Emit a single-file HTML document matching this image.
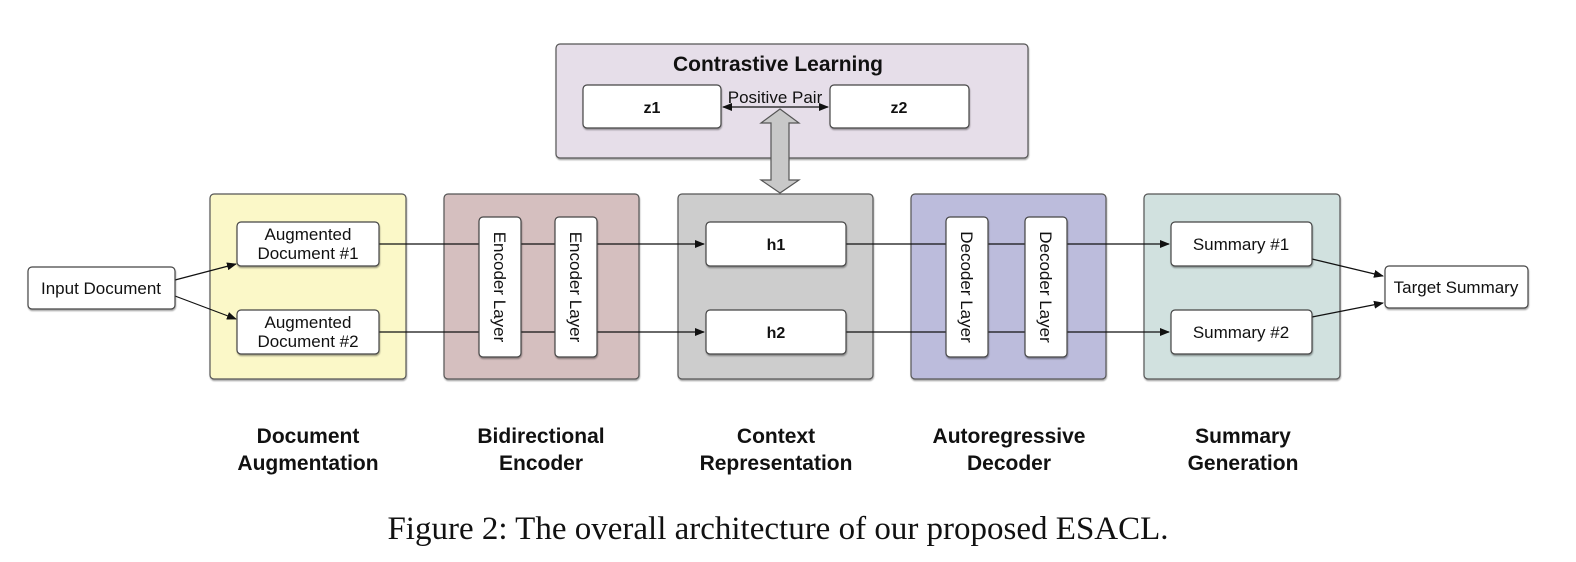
<!DOCTYPE html>
<html><head><meta charset="utf-8"><style>
html,body{margin:0;padding:0;background:#fff;}
svg{display:block;}
text{font-family:"Liberation Sans",Arial,sans-serif;fill:#111;}
</style></head><body>
<svg width="1576" height="562" viewBox="0 0 1576 562" xmlns="http://www.w3.org/2000/svg">
<defs>
<marker id="ah" markerWidth="10" markerHeight="8" refX="9" refY="4" orient="auto" markerUnits="userSpaceOnUse">
<path d="M0,0 L10,4 L0,8 z" fill="#111"/></marker>
<marker id="ahs" markerWidth="10" markerHeight="8" refX="1" refY="4" orient="auto" markerUnits="userSpaceOnUse">
<path d="M10,0 L0,4 L10,8 z" fill="#111"/></marker>
<filter id="sh" x="-5%" y="-5%" width="110%" height="115%"><feDropShadow dx="0.5" dy="1.5" stdDeviation="0.8" flood-color="#000" flood-opacity="0.35"/></filter>
</defs>
<g stroke="#555" stroke-width="1.2" filter="url(#sh)">
<rect x="556" y="44" width="472" height="114" rx="4" fill="#e6dee9"/>
<rect x="210" y="194" width="196" height="185" rx="4" fill="#fbf8c8"/>
<rect x="444" y="194" width="195" height="185" rx="4" fill="#d5bfbf"/>
<rect x="678" y="194" width="195" height="185" rx="4" fill="#cdcdcd"/>
<rect x="911" y="194" width="195" height="185" rx="4" fill="#bcbcdc"/>
<rect x="1144" y="194" width="196" height="185" rx="4" fill="#d1e1df"/>
</g>
<g stroke="#111" stroke-width="1.2" fill="none">
<line x1="379" y1="244" x2="704" y2="244" marker-end="url(#ah)"/>
<line x1="379" y1="332" x2="704" y2="332" marker-end="url(#ah)"/>
<line x1="846" y1="244" x2="1169" y2="244" marker-end="url(#ah)"/>
<line x1="846" y1="332" x2="1169" y2="332" marker-end="url(#ah)"/>
<line x1="175" y1="280" x2="236" y2="264" marker-end="url(#ah)"/>
<line x1="175" y1="296" x2="236" y2="319" marker-end="url(#ah)"/>
<line x1="1312" y1="259" x2="1383" y2="276" marker-end="url(#ah)"/>
<line x1="1312" y1="317" x2="1383" y2="303" marker-end="url(#ah)"/>
<line x1="723" y1="107" x2="828" y2="107" marker-start="url(#ahs)" marker-end="url(#ah)"/>
</g>
<path d="M780,109 L799,123 L789,123 L789,180 L799,180 L780,193 L761,180 L771,180 L771,123 L761,123 Z" fill="#c8c8c8" stroke="#555" stroke-width="1.2"/>
<g stroke="#444" stroke-width="1.2" fill="#fff" filter="url(#sh)">
<rect x="28" y="267" width="147" height="42" rx="4"/>
<rect x="237" y="222" width="142" height="44" rx="4"/>
<rect x="237" y="310" width="142" height="44" rx="4"/>
<rect x="479" y="217" width="42" height="140" rx="4"/>
<rect x="555" y="217" width="42" height="140" rx="4"/>
<rect x="706" y="222" width="140" height="44" rx="4"/>
<rect x="706" y="310" width="140" height="44" rx="4"/>
<rect x="946" y="217" width="42" height="140" rx="4"/>
<rect x="1025" y="217" width="42" height="140" rx="4"/>
<rect x="1171" y="222" width="141" height="44" rx="4"/>
<rect x="1171" y="310" width="141" height="44" rx="4"/>
<rect x="1385" y="266" width="143" height="42" rx="4"/>
<rect x="583" y="85" width="138" height="43" rx="4"/>
<rect x="830" y="85" width="139" height="43" rx="4"/>
</g>
<g font-size="17" text-anchor="middle">
<text x="101" y="294">Input Document</text>
<text x="308" y="240">Augmented</text><text x="308" y="259">Document #1</text>
<text x="308" y="328">Augmented</text><text x="308" y="347">Document #2</text>
<text x="1241" y="250">Summary #1</text>
<text x="1241" y="338">Summary #2</text>
<text x="1456" y="293">Target Summary</text>
<text x="775" y="103">Positive Pair</text>
<text transform="translate(494,287) rotate(90)">Encoder Layer</text>
<text transform="translate(570,287) rotate(90)">Encoder Layer</text>
<text transform="translate(961,287) rotate(90)">Decoder Layer</text>
<text transform="translate(1040,287) rotate(90)">Decoder Layer</text>
</g>
<g font-weight="bold" text-anchor="middle">
<text x="778" y="71" font-size="21">Contrastive Learning</text>
<text x="652" y="113" font-size="16">z1</text>
<text x="899" y="113" font-size="16">z2</text>
<text x="776" y="250" font-size="16">h1</text>
<text x="776" y="338" font-size="16">h2</text>
<g font-size="21">
<text x="308" y="443">Document</text><text x="308" y="470">Augmentation</text>
<text x="541" y="443">Bidirectional</text><text x="541" y="470">Encoder</text>
<text x="776" y="443">Context</text><text x="776" y="470">Representation</text>
<text x="1009" y="443">Autoregressive</text><text x="1009" y="470">Decoder</text>
<text x="1243" y="443">Summary</text><text x="1243" y="470">Generation</text>
</g>
</g>
<text x="778" y="539" text-anchor="middle" font-size="33" style="font-family:'Liberation Serif','Times New Roman',serif">Figure 2: The overall architecture of our proposed ESACL.</text>
</svg>
</body></html>
